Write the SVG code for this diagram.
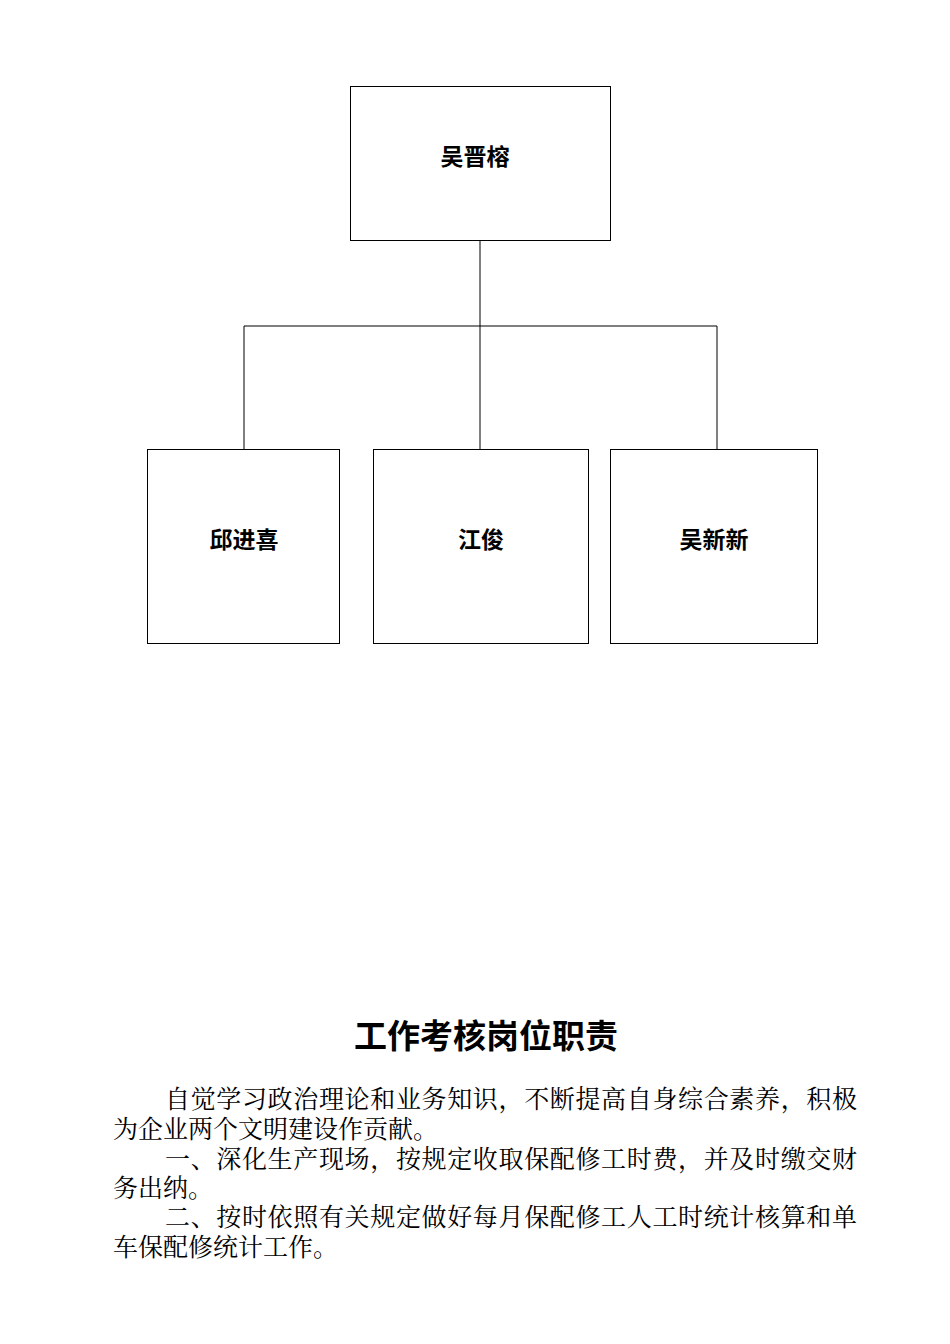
<svg xmlns="http://www.w3.org/2000/svg" width="950" height="1344" viewBox="0 0 950 1344">
<style>
.box{fill:#fff;stroke:#000;stroke-width:1}
.lbl{font-family:"Noto Sans CJK SC",sans-serif;font-size:23px;font-weight:bold;text-anchor:middle}
.body{font-family:"Liberation Serif","Noto Serif CJK SC","Noto Sans CJK SC",serif;font-size:25px}
.title{font-family:"Noto Sans CJK SC",sans-serif;font-size:33px;font-weight:bold;text-anchor:middle}
</style>
<rect width="950" height="1344" fill="#fff"/>
<g id="connectors" fill="none" stroke="#000" stroke-width="1">
<path d="M480 240V326M244 326H717M244 326V449M480 326V449M717 326V449"/>
</g>
<g id="n0"><rect class="box" x="350.5" y="86.5" width="260" height="154"/><text class="lbl" x="475" y="165">吴晋榕</text></g>
<g id="n1"><rect class="box" x="147.5" y="449.5" width="192" height="194"/><text class="lbl" x="244" y="548">邱进喜</text></g>
<g id="n2"><rect class="box" x="373.5" y="449.5" width="215" height="194"/><text class="lbl" x="481" y="548">江俊</text></g>
<g id="n3"><rect class="box" x="610.5" y="449.5" width="207" height="194"/><text class="lbl" x="714" y="548">吴新新</text></g>
<text class="title" x="486" y="1048">工作考核岗位职责</text>
<g class="body">
<text x="165" y="1108" textLength="692" lengthAdjust="spacing">自觉学习政治理论和业务知识，不断提高自身综合素养，积极</text>
<text x="113" y="1138">为企业两个文明建设作贡献。</text>
<text x="165" y="1168" textLength="692" lengthAdjust="spacing">一、深化生产现场，按规定收取保配修工时费，并及时缴交财</text>
<text x="113" y="1197">务出纳。</text>
<text x="165" y="1226" textLength="692" lengthAdjust="spacing">二、按时依照有关规定做好每月保配修工人工时统计核算和单</text>
<text x="113" y="1256">车保配修统计工作。</text>
</g>
</svg>
